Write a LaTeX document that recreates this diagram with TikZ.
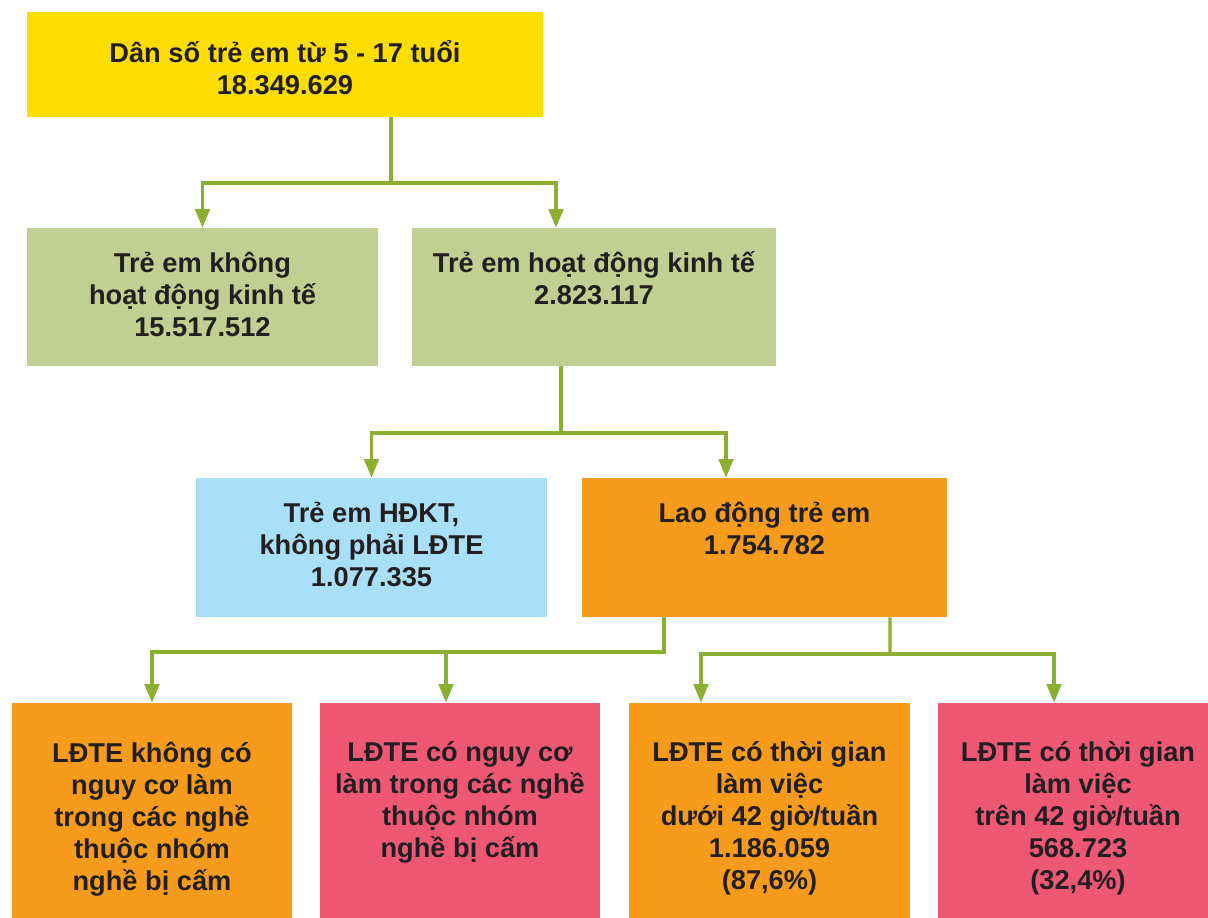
\documentclass[tikz,border=0pt]{standalone}
\usepackage{fontspec}
\setmainfont{Liberation Sans}
\usetikzlibrary{positioning, calc, arrows.meta}

\definecolor{ybox}{RGB}{254,221,0}
\definecolor{gbox}{RGB}{193,207,146}
\definecolor{bbox}{RGB}{169,223,248}
\definecolor{obox}{RGB}{247,155,29}
\definecolor{pbox}{RGB}{238,88,116}
\definecolor{linkc}{RGB}{139,175,48}
\definecolor{ink}{RGB}{35,31,32}

\begin{document}
\begin{tikzpicture}[x=0.02cm, y=-0.02cm,
	cell/.style={rectangle, inner sep=0pt, draw=none},
	lbl/.style={align=center, inner sep=0pt, text=ink,
		font=\fontsize{15.5pt}{18.2pt}\selectfont\bfseries},
	link/.style={linkc, line width=1.8pt},
	arr/.style={link, -{Triangle[length=0.37cm, width=0.29cm]}}]
	\useasboundingbox (0,0) rectangle (1208,918);
	% boxes
	\node[cell, fill=ybox, minimum width=10.32cm, minimum height=2.1cm] (pop) at (285,64.5) {};
	\node[cell, fill=gbox, minimum width=7.02cm, minimum height=2.76cm] (nonecon) at (202.5,297) {};
	\node[cell, fill=gbox, minimum width=7.28cm, minimum height=2.76cm] (econ) at (594,297) {};
	\node[cell, fill=bbox, minimum width=7.02cm, minimum height=2.78cm] (econok) at (371.5,547.5) {};
	\node[cell, fill=obox, minimum width=7.3cm, minimum height=2.78cm] (labour) at (764.5,547.5) {};
	\node[cell, fill=obox, minimum width=5.6cm, minimum height=4.44cm] (safe) at (152,814) {};
	\node[cell, fill=pbox, minimum width=5.6cm, minimum height=4.44cm] (hazard) at (460,814) {};
	\node[cell, fill=obox, minimum width=5.62cm, minimum height=4.44cm] (under) at (769.5,814) {};
	\node[cell, fill=pbox, minimum width=5.6cm, minimum height=4.44cm] (over) at (1078,814) {};
	% texts
	\node[lbl, below=0.57cm of pop.north] (popt) {Dân số trẻ em từ 5 - 17 tuổi\\18.349.629};
	\node[lbl, below=0.48cm of nonecon.north] (nonecont) {Trẻ em không\\hoạt động kinh tế\\15.517.512};
	\node[lbl, below=0.48cm of econ.north] (econt) {Trẻ em hoạt động kinh tế\\2.823.117};
	\node[lbl, below=0.48cm of econok.north] (econokt) {Trẻ em HĐKT,\\không phải LĐTE\\1.077.335};
	\node[lbl, below=0.48cm of labour.north] (labourt) {Lao động trẻ em\\1.754.782};
	\node[lbl, below=0.78cm of safe.north] (safet) {LĐTE không có\\nguy cơ làm\\trong các nghề\\thuộc nhóm\\nghề bị cấm};
	\node[lbl, below=0.78cm of hazard.north] (hazardt) {LĐTE có nguy cơ\\làm trong các nghề\\thuộc nhóm\\nghề bị cấm};
	\node[lbl, below=0.78cm of under.north] (undert) {LĐTE có thời gian\\làm việc\\dưới 42 giờ/tuần\\1.186.059\\(87,6\%)};
	\node[lbl, below=0.78cm of over.north] (overt) {LĐTE có thời gian\\làm việc\\trên 42 giờ/tuần\\568.723\\(32,4\%)};
	% connectors
	\coordinate (s1) at (391,183);
	\coordinate (s2) at (561,433);
	\coordinate (s3) at (446,652);
	\coordinate (s4) at (890,654);
	\draw[link] ($(pop.south)+(106,0)$) -- (s1);
	\draw[arr] (s1) -| (nonecon.north);
	\draw[arr] (s1) -| ($(econ.north)+(-38,0)$);
	\draw[link] ($(econ.south)+(-33,0)$) -- (s2);
	\draw[arr] (s2) -| (econok.north);
	\draw[arr] (s2) -| ($(labour.north)+(-38.5,0)$);
	\draw[link] ($(labour.south)+(-100.5,0)$) |- (s3);
	\draw[arr] (s3) -| (safe.north);
	\draw[arr] (s3) -- ($(hazard.north)+(-14,0)$);
	\draw[link] ($(labour.south)+(125.5,0)$) -- (s4);
	\draw[arr] (s4) -| ($(under.north)+(-68.5,0)$);
	\draw[arr] (s4) -| ($(over.north)+(-24,0)$);
\end{tikzpicture}
\end{document}
